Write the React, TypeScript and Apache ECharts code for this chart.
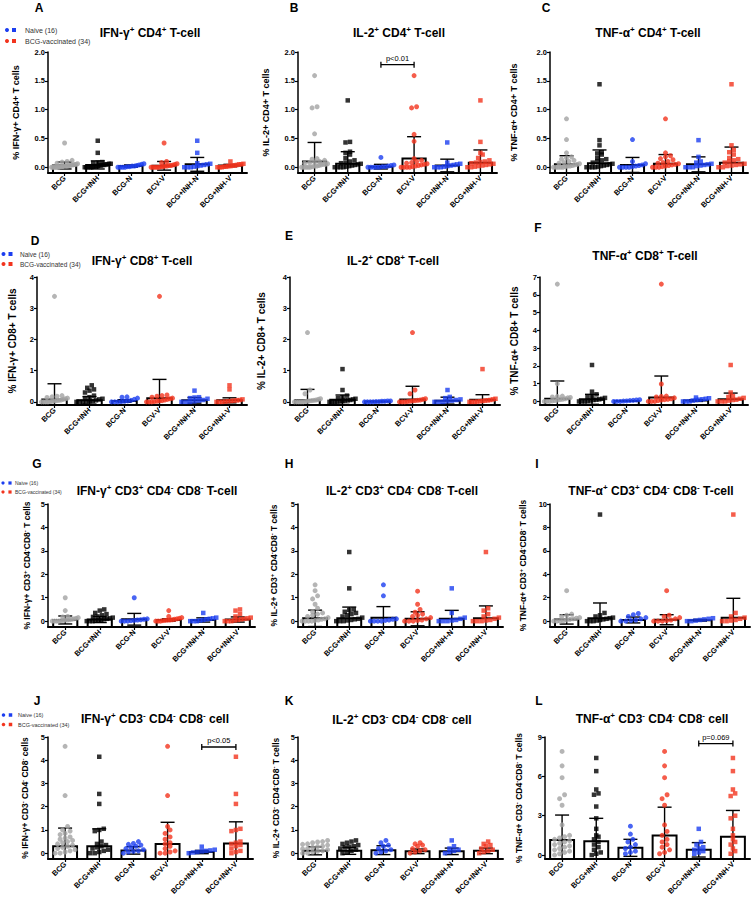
import React, { useEffect, useRef } from "react";
import * as echarts from "echarts";

const FONT = "'Liberation Sans', Arial, Helvetica, sans-serif";

const CATEGORIES = ["BCG", "BCG+INH", "BCG-N", "BCV-V", "BCG+INH-N", "BCG+INH-V"];
const CATEGORIES_L = ["BCG", "BCG+INH", "BCG-N", "BCG-V", "BCG+INH-N", "BCG+INH-V"];
const GROUP_COLORS = ["#a2a2a2", "#000000", "#1c3ef0", "#f2341e", "#1c3ef0", "#f2341e"];
const GROUP_SYMBOLS = ["circle", "rect", "circle", "circle", "rect", "rect"];
const LEGEND_LABELS = ["Naive (16)", "BCG-vaccinated (34)"];
const LEGEND_COLORS = ["#1c3ef0", "#f2341e"];

const TICKS_2 = [0, 0.5, 1, 1.5, 2];
const TICKS_4 = [0, 1, 2, 3, 4];
const TICKS_7 = [0, 1, 2, 3, 4, 5, 6, 7];
const TICKS_5 = [0, 1, 2, 3, 4, 5];
const TICKS_10 = [0, 2, 4, 6, 8, 10];
const TICKS_9 = [0, 3, 6, 9];

// ---- A: IFN-g+ CD4+ ----
const A_mean = [0.03, 0.04, 0.02, 0.025, 0.05, 0.03];
const A_sd = [0.06, 0.07, 0.02, 0.075, 0.12, 0.02];
const A_pts = [
  [0.42, 0.12, 0.1, 0.09, 0.07, 0.06, 0.05, 0.05, 0.04, 0.04, 0.03, 0.03, 0.02, 0.02, 0.02, 0.01, 0.01, 0.01, 0, 0, 0, 0, 0, 0],
  [0.46, 0.25, 0.09, 0.08, 0.07, 0.06, 0.06, 0.05, 0.05, 0.04, 0.04, 0.03, 0.03, 0.02, 0.02, 0.01, 0.01, 0, 0, 0, 0, 0],
  [0.06, 0.05, 0.04, 0.03, 0.02, 0.02, 0.01, 0.01, 0, 0, 0, 0],
  [0.42, 0.1, 0.08, 0.06, 0.05, 0.04, 0.03, 0.03, 0.02, 0.02, 0.01, 0.01, 0, 0, 0, 0, 0],
  [0.46, 0.25, 0.07, 0.06, 0.05, 0.04, 0.03, 0.02, 0.01, 0, 0, 0],
  [0.1, 0.06, 0.05, 0.05, 0.04, 0.03, 0.03, 0.02, 0.02, 0.01, 0.01, 0, 0, 0],
];

// ---- B: IL-2+ CD4+ ----
const B_mean = [0.1, 0.06, 0.01, 0.15, 0.03, 0.08];
const B_sd = [0.33, 0.21, 0.04, 0.38, 0.11, 0.22];
const B_pts = [
  [1.59, 1.05, 1.03, 0.58, 0.15, 0.14, 0.12, 0.1, 0.09, 0.08, 0.07, 0.06, 0.05, 0.05, 0.04, 0.03, 0.02, 0.02, 0.01, 0, 0, 0, 0, 0],
  [1.16, 0.44, 0.43, 0.27, 0.25, 0.22, 0.16, 0.12, 0.1, 0.08, 0.07, 0.06, 0.05, 0.04, 0.03, 0.02, 0.01, 0, 0, 0, 0],
  [0.17, 0.04, 0.03, 0.02, 0.01, 0.01, 0, 0, 0, 0, 0],
  [1.59, 1.05, 1.03, 0.57, 0.45, 0.15, 0.12, 0.1, 0.08, 0.07, 0.06, 0.05, 0.04, 0.03, 0.02, 0.01, 0, 0, 0, 0],
  [0.43, 0.08, 0.06, 0.05, 0.04, 0.03, 0.02, 0.01, 0, 0, 0],
  [1.16, 0.44, 0.25, 0.22, 0.16, 0.12, 0.1, 0.09, 0.08, 0.07, 0.06, 0.05, 0.04, 0.03, 0.02, 0.01, 0, 0],
];
const B_bracket = [2, 3, 1.78];
const B_label = "p<0.01";

// ---- C: TNF-a+ CD4+ ----
const C_mean = [0.05, 0.07, 0.04, 0.06, 0.05, 0.08];
const C_sd = [0.15, 0.23, 0.13, 0.16, 0.13, 0.27];
const C_pts = [
  [0.84, 0.48, 0.25, 0.18, 0.16, 0.14, 0.12, 0.1, 0.08, 0.07, 0.06, 0.05, 0.04, 0.03, 0.02, 0.02, 0.01, 0, 0, 0, 0, 0],
  [1.44, 0.47, 0.38, 0.26, 0.24, 0.22, 0.16, 0.14, 0.12, 0.1, 0.08, 0.06, 0.05, 0.04, 0.03, 0.02, 0.01, 0, 0, 0, 0],
  [0.48, 0.1, 0.06, 0.04, 0.03, 0.02, 0.01, 0, 0, 0, 0],
  [0.84, 0.25, 0.2, 0.18, 0.15, 0.13, 0.1, 0.08, 0.07, 0.06, 0.05, 0.04, 0.03, 0.02, 0.01, 0, 0, 0],
  [0.47, 0.18, 0.1, 0.08, 0.06, 0.05, 0.04, 0.03, 0.02, 0, 0, 0],
  [1.44, 0.38, 0.3, 0.26, 0.22, 0.16, 0.14, 0.12, 0.1, 0.08, 0.06, 0.05, 0.04, 0.03, 0.02, 0, 0],
];

// ---- D: IFN-g+ CD8+ ----
const D_mean = [0.08, 0.05, 0.03, 0.12, 0.05, 0.05];
const D_sd = [0.5, 0.12, 0.04, 0.6, 0.09, 0.08];
const D_pts = [
  [3.38, 0.2, 0.18, 0.16, 0.14, 0.12, 0.1, 0.08, 0.06, 0.05, 0.04, 0.03, 0.02, 0.01, 0, 0, 0, 0],
  [0.53, 0.45, 0.4, 0.36, 0.3, 0.2, 0.15, 0.12, 0.1, 0.08, 0.05, 0.03, 0.02, 0.01, 0, 0, 0],
  [0.16, 0.15, 0.12, 0.08, 0.05, 0.03, 0.02, 0.01, 0, 0, 0],
  [3.38, 0.22, 0.2, 0.18, 0.15, 0.12, 0.1, 0.08, 0.06, 0.04, 0.03, 0.02, 0.01, 0, 0, 0],
  [0.36, 0.15, 0.14, 0.12, 0.1, 0.06, 0.04, 0.02, 0, 0, 0],
  [0.53, 0.4, 0.08, 0.06, 0.05, 0.04, 0.03, 0.02, 0.01, 0, 0, 0],
];

// ---- E: IL-2+ CD8+ ----
const E_mean = [0.05, 0.07, 0.01, 0.08, 0.04, 0.07];
const E_sd = [0.35, 0.15, 0.01, 0.42, 0.11, 0.16];
const E_pts = [
  [2.22, 0.38, 0.26, 0.1, 0.08, 0.06, 0.05, 0.04, 0.03, 0.02, 0.01, 0, 0, 0, 0, 0],
  [1.05, 0.38, 0.2, 0.15, 0.12, 0.1, 0.08, 0.06, 0.05, 0.04, 0.03, 0.02, 0.01, 0, 0, 0],
  [0.03, 0.03, 0.02, 0.02, 0.01, 0.01, 0, 0, 0, 0],
  [2.22, 0.38, 0.26, 0.1, 0.08, 0.06, 0.05, 0.04, 0.03, 0.02, 0.01, 0, 0, 0],
  [0.38, 0.16, 0.12, 0.08, 0.06, 0.04, 0.02, 0, 0, 0],
  [1.05, 0.1, 0.08, 0.06, 0.05, 0.04, 0.03, 0.02, 0.01, 0, 0, 0],
];

// ---- F: TNF-a+ CD8+ ----
const F_mean = [0.15, 0.12, 0.03, 0.22, 0.05, 0.12];
const F_sd = [1.0, 0.28, 0.02, 1.21, 0.05, 0.35];
const F_pts = [
  [6.6, 1.0, 0.3, 0.28, 0.25, 0.22, 0.2, 0.15, 0.12, 0.1, 0.08, 0.05, 0.03, 0, 0, 0],
  [2.05, 0.55, 0.4, 0.3, 0.25, 0.2, 0.15, 0.12, 0.1, 0.08, 0.05, 0.03, 0, 0, 0],
  [0.1, 0.08, 0.06, 0.05, 0.03, 0.02, 0, 0, 0],
  [6.6, 0.98, 0.3, 0.28, 0.25, 0.2, 0.15, 0.12, 0.1, 0.08, 0.05, 0, 0, 0],
  [0.22, 0.18, 0.15, 0.12, 0.1, 0.08, 0.05, 0, 0, 0],
  [2.05, 0.5, 0.3, 0.25, 0.2, 0.15, 0.1, 0.08, 0.05, 0, 0, 0],
];

// ---- G: IFN-g+ CD3+ CD4- CD8- ----
const G_mean = [0.05, 0.07, 0.08, 0.05, 0.05, 0.07];
const G_sd = [0.17, 0.13, 0.25, 0.05, 0.09, 0.11];
const G_pts = [
  [1.0, 0.45, 0.2, 0.18, 0.15, 0.12, 0.1, 0.08, 0.06, 0.05, 0.04, 0.03, 0.02, 0, 0, 0, 0],
  [0.5, 0.45, 0.35, 0.3, 0.25, 0.2, 0.18, 0.15, 0.12, 0.1, 0.08, 0.06, 0.04, 0.02, 0, 0, 0],
  [1.0, 0.1, 0.08, 0.06, 0.05, 0.03, 0.02, 0, 0, 0],
  [0.45, 0.2, 0.15, 0.12, 0.1, 0.08, 0.06, 0.05, 0.04, 0.03, 0.02, 0, 0, 0],
  [0.35, 0.15, 0.12, 0.1, 0.08, 0.05, 0.03, 0, 0, 0],
  [0.5, 0.45, 0.3, 0.2, 0.15, 0.12, 0.1, 0.08, 0.05, 0.03, 0, 0, 0],
];

// ---- H: IL-2+ CD3+ CD4- CD8- ----
const H_mean = [0.12, 0.12, 0.15, 0.1, 0.1, 0.12];
const H_sd = [0.35, 0.48, 0.47, 0.3, 0.36, 0.53];
const H_pts = [
  [1.55, 1.3, 1.08, 0.95, 0.72, 0.55, 0.4, 0.35, 0.3, 0.25, 0.2, 0.15, 0.1, 0.08, 0.05, 0.03, 0, 0, 0, 0],
  [2.95, 1.4, 0.5, 0.48, 0.4, 0.35, 0.3, 0.25, 0.2, 0.15, 0.1, 0.08, 0.05, 0.03, 0, 0, 0],
  [1.55, 1.08, 0.1, 0.08, 0.05, 0.03, 0, 0, 0, 0],
  [1.28, 0.72, 0.5, 0.38, 0.3, 0.25, 0.2, 0.15, 0.1, 0.05, 0.03, 0, 0, 0],
  [1.4, 0.35, 0.15, 0.1, 0.05, 0.03, 0, 0, 0],
  [2.95, 0.55, 0.45, 0.3, 0.2, 0.15, 0.1, 0.05, 0.03, 0, 0, 0],
];

// ---- I: TNF-a+ CD3+ CD4- CD8- ----
const I_mean = [0.15, 0.25, 0.1, 0.12, 0.08, 0.3];
const I_sd = [0.4, 1.3, 0.25, 0.43, 0.07, 1.65];
const I_pts = [
  [2.6, 0.6, 0.5, 0.4, 0.3, 0.25, 0.2, 0.15, 0.1, 0.05, 0, 0, 0],
  [9.1, 0.7, 0.5, 0.4, 0.3, 0.25, 0.2, 0.15, 0.1, 0.05, 0, 0, 0],
  [0.65, 0.55, 0.4, 0.3, 0.2, 0.1, 0.05, 0, 0],
  [2.6, 0.5, 0.4, 0.3, 0.2, 0.1, 0.05, 0, 0, 0],
  [0.25, 0.2, 0.15, 0.1, 0.05, 0, 0],
  [9.1, 0.7, 0.4, 0.3, 0.2, 0.1, 0.05, 0, 0],
];

// ---- J: IFN-g+ CD3- CD4- CD8- ----
const J_mean = [0.3, 0.3, 0.12, 0.4, 0.05, 0.42];
const J_sd = [0.78, 0.75, 0.16, 0.93, 0.07, 0.93];
const J_pts = [
  [4.6, 2.48, 1.15, 1.0, 0.95, 0.85, 0.8, 0.7, 0.65, 0.6, 0.55, 0.5, 0.45, 0.4, 0.35, 0.3, 0.25, 0.2, 0.15, 0.1, 0.05, 0, 0],
  [4.15, 2.55, 2.12, 1.05, 1.0, 0.95, 0.5, 0.4, 0.35, 0.3, 0.25, 0.2, 0.15, 0.1, 0.05, 0, 0],
  [0.5, 0.42, 0.38, 0.35, 0.3, 0.25, 0.2, 0.15, 0.1, 0.08, 0.05, 0],
  [4.6, 2.48, 1.15, 1.0, 0.85, 0.7, 0.6, 0.45, 0.4, 0.3, 0.2, 0.1, 0.05, 0, 0],
  [0.28, 0.15, 0.12, 0.1, 0.08, 0.05, 0.03, 0],
  [4.15, 2.55, 2.12, 1.05, 1.0, 0.95, 0.5, 0.45, 0.4, 0.35, 0.3, 0.2, 0.1, 0.05, 0],
];
const J_bracket = [4, 5, 4.57];
const J_label = "p<0.05";

// ---- K: IL-2+ CD3- CD4- CD8- ----
const K_mean = [0.1, 0.1, 0.13, 0.08, 0.08, 0.1];
const K_sd = [0.17, 0.15, 0.19, 0.1, 0.14, 0.12];
const K_pts = [
  [0.55, 0.5, 0.48, 0.45, 0.4, 0.38, 0.35, 0.3, 0.28, 0.25, 0.2, 0.18, 0.15, 0.1, 0.08, 0.05, 0, 0],
  [0.55, 0.5, 0.45, 0.4, 0.35, 0.3, 0.28, 0.25, 0.2, 0.15, 0.1, 0.05, 0],
  [0.55, 0.45, 0.35, 0.3, 0.2, 0.15, 0.1, 0.05, 0],
  [0.45, 0.4, 0.35, 0.3, 0.2, 0.15, 0.1, 0.05, 0],
  [0.55, 0.3, 0.2, 0.15, 0.1, 0.05, 0],
  [0.5, 0.4, 0.35, 0.3, 0.2, 0.15, 0.1, 0.05, 0],
];

// ---- L: TNF-a+ CD3- CD4- CD8- ----
const L_mean = [1.15, 1.05, 0.55, 1.5, 0.4, 1.4];
const L_sd = [1.9, 1.75, 0.65, 2.15, 0.55, 2.0];
const L_pts = [
  [7.9, 6.8, 5.9, 4.6, 4.3, 3.8, 2.3, 1.5, 1.4, 1.3, 1.2, 1.1, 1.0, 0.9, 0.8, 0.7, 0.6, 0.5, 0.4, 0.3, 0.2, 0.1, 0],
  [7.4, 6.4, 5.0, 4.7, 4.6, 3.7, 2.8, 2.0, 1.5, 1.4, 1.2, 1.0, 0.8, 0.6, 0.4, 0.2, 0.1, 0],
  [2.2, 1.6, 1.2, 1.0, 0.8, 0.6, 0.5, 0.3, 0.2, 0.1],
  [7.9, 6.8, 5.9, 4.6, 4.3, 3.8, 2.3, 1.8, 1.5, 1.2, 1.0, 0.8, 0.6, 0.4, 0.2, 0.1],
  [2.0, 1.0, 0.8, 0.6, 0.5, 0.4, 0.3, 0.2, 0.1],
  [7.4, 6.4, 5.0, 4.7, 4.5, 3.0, 2.8, 2.0, 1.5, 1.2, 1.0, 0.8, 0.5, 0.3, 0.1],
];
const L_bracket = [4, 5, 8.5];
const L_label = "p=0.069";

type Panel = {
  id: string; mean: number[]; sd: number[]; pts: number[][]; cats: string[];
  yMin: number; yMax: number; ticks: number[]; dec: number;
  grid: number[]; letter: number[]; title: string; titleAt: number[];
  yName: string; nameSize: number; nameGap: number;
  bracket?: number[]; bracketLabel?: string;
};

const PANELS: Panel[] = [
  { id: "A", mean: A_mean, sd: A_sd, pts: A_pts, cats: CATEGORIES, yMin: -0.1, yMax: 2, ticks: TICKS_2, dec: 1,
    grid: [48, 52, 199, 121], letter: [39, 8], title: "IFN-γ^+ CD4^+ T-cell", titleAt: [150, 33],
    yName: "% IFN-γ+ CD4+ T cells", nameSize: 9, nameGap: 28 },
  { id: "B", mean: B_mean, sd: B_sd, pts: B_pts, cats: CATEGORIES, yMin: -0.1, yMax: 2, ticks: TICKS_2, dec: 1,
    grid: [298, 52, 199, 121], letter: [294, 8], title: "IL-2^+ CD4^+ T-cell", titleAt: [399, 33],
    yName: "% IL-2+ CD4+ T cells", nameSize: 9, nameGap: 28, bracket: B_bracket, bracketLabel: B_label },
  { id: "C", mean: C_mean, sd: C_sd, pts: C_pts, cats: CATEGORIES, yMin: -0.1, yMax: 2, ticks: TICKS_2, dec: 1,
    grid: [550, 52, 198, 121], letter: [546, 8], title: "TNF-α^+ CD4^+ T-cell", titleAt: [648, 33],
    yName: "% TNF-α+ CD4+ T cells", nameSize: 9, nameGap: 32 },
  { id: "D", mean: D_mean, sd: D_sd, pts: D_pts, cats: CATEGORIES, yMin: -0.1, yMax: 4, ticks: TICKS_4, dec: 0,
    grid: [37, 277, 210, 128], letter: [35, 241], title: "IFN-γ^+ CD8^+ T-cell", titleAt: [142, 261],
    yName: "% IFN-γ+ CD8+ T cells", nameSize: 10, nameGap: 20 },
  { id: "E", mean: E_mean, sd: E_sd, pts: E_pts, cats: CATEGORIES, yMin: -0.1, yMax: 4, ticks: TICKS_4, dec: 0,
    grid: [290, 277, 210, 128], letter: [289, 236], title: "IL-2^+ CD8^+ T-cell", titleAt: [393, 261],
    yName: "% IL-2+ CD8+ T cells", nameSize: 10, nameGap: 24 },
  { id: "F", mean: F_mean, sd: F_sd, pts: F_pts, cats: CATEGORIES, yMin: -0.2, yMax: 7, ticks: TICKS_7, dec: 0,
    grid: [540, 277, 208, 128], letter: [538, 228], title: "TNF-α^+ CD8^+ T-cell", titleAt: [645, 256],
    yName: "% TNF-α+ CD8+ T cells", nameSize: 10, nameGap: 21 },
  { id: "G", mean: G_mean, sd: G_sd, pts: G_pts, cats: CATEGORIES, yMin: -0.25, yMax: 5, ticks: TICKS_5, dec: 0,
    grid: [48, 504, 207, 123], letter: [37, 464], title: "IFN-γ^+ CD3^+ CD4^- CD8^- T-cell", titleAt: [157, 491],
    yName: "% IFN-γ+ CD3^+ CD4^-CD8^- T cells", nameSize: 8.5, nameGap: 17 },
  { id: "H", mean: H_mean, sd: H_sd, pts: H_pts, cats: CATEGORIES, yMin: -0.25, yMax: 5, ticks: TICKS_5, dec: 0,
    grid: [298, 504, 205, 123], letter: [289, 464], title: "IL-2^+ CD3^+ CD4^- CD8^- T-cell", titleAt: [402, 491],
    yName: "% IL-2+ CD3^+ CD4^-CD8^- T cells", nameSize: 8.5, nameGap: 20 },
  { id: "I", mean: I_mean, sd: I_sd, pts: I_pts, cats: CATEGORIES, yMin: -0.5, yMax: 10, ticks: TICKS_10, dec: 0,
    grid: [550, 504, 200, 123], letter: [537, 464], title: "TNF-α^+ CD3^+ CD4^- CD8^- T-cell", titleAt: [651, 491],
    yName: "% TNF-α+ CD3^+ CD4^-CD8^- T cells", nameSize: 8.5, nameGap: 23 },
  { id: "J", mean: J_mean, sd: J_sd, pts: J_pts, cats: CATEGORIES, yMin: -0.25, yMax: 5, ticks: TICKS_5, dec: 0,
    grid: [48, 737, 205, 122], letter: [37, 701], title: "IFN-γ^+ CD3^- CD4^- CD8^- cell", titleAt: [155, 719],
    yName: "% IFN-γ+ CD3^- CD4^- CD8^- cells", nameSize: 8.5, nameGap: 19, bracket: J_bracket, bracketLabel: J_label },
  { id: "K", mean: K_mean, sd: K_sd, pts: K_pts, cats: CATEGORIES, yMin: -0.25, yMax: 5, ticks: TICKS_5, dec: 0,
    grid: [298, 737, 205, 122], letter: [289, 701], title: "IL-2^+ CD3^- CD4^- CD8^- cell", titleAt: [402, 720],
    yName: "% IL-2+ CD3^- CD4^-CD8^- T cells", nameSize: 8.5, nameGap: 18 },
  { id: "L", mean: L_mean, sd: L_sd, pts: L_pts, cats: CATEGORIES_L, yMin: -0.3, yMax: 9, ticks: TICKS_9, dec: 0,
    grid: [545, 737, 205, 122], letter: [539, 701], title: "TNF-α^+ CD3^- CD4^- CD8^- cell", titleAt: [652, 719],
    yName: "% TNF-α+ CD3^- CD4^-CD8^- T cells", nameSize: 8.5, nameGap: 22, bracket: L_bracket, bracketLabel: L_label },
];

const LEGENDS = [
  { x: 7, y: 30, dy: 11, fs: 7, ms: 4, tx: 25 },
  { x: 3.5, y: 254, dy: 10, fs: 6.5, ms: 4, tx: 20 },
  { x: 3, y: 483, dy: 9, fs: 5, ms: 3.2, tx: 15 },
  { x: 3.5, y: 715, dy: 9.5, fs: 5.5, ms: 3.5, tx: 18 },
];

function richText(text: string): string {
  return text
    .split(/(\^[+-])/)
    .filter((p) => p.length > 0)
    .map((p) => (p.startsWith("^") ? `{s|${p.slice(1)}}` : `{n|${p}}`))
    .join("");
}

function swarm(vals: number[], ppu: number, sym: number, maxW: number): [number, number][] {
  const sorted = [...vals].sort((a, b) => a - b);
  const rows: number[][] = [];
  let start = -Infinity;
  for (const v of sorted) {
    if (rows.length && (v - start) * ppu < sym * 0.8) rows[rows.length - 1].push(v);
    else {
      rows.push([v]);
      start = v;
    }
  }
  const out: [number, number][] = [];
  for (const r of rows) {
    const n = r.length;
    const step = n > 1 ? Math.min(sym, maxW / (n - 1)) : 0;
    r.forEach((v, i) => out.push([v, (i - (n - 1) / 2) * step]));
  }
  return out;
}

export default function App() {
  const ref = useRef<HTMLDivElement>(null);
  useEffect(() => {
    const chart = echarts.init(ref.current!, null, { renderer: "svg" });

    const grids: any[] = [];
    const xAxes: any[] = [];
    const yAxes: any[] = [];
    const series: any[] = [];
    const graphics: any[] = [];

    PANELS.forEach((p, i) => {
      const [gl, gt, gw, gh] = p.grid;
      const yMin = p.yMin;
      grids.push({ left: gl, top: gt, width: gw, height: gh, containLabel: false, outerBoundsMode: "none" });
      xAxes.push({
        type: "category",
        gridIndex: i,
        data: p.cats,
        boundaryGap: true,
        axisLine: { show: true, onZero: false, lineStyle: { color: "#000", width: 2 } },
        axisTick: { show: true, alignWithLabel: true, length: 3, lineStyle: { color: "#000", width: 1.2 } },
        axisLabel: { rotate: 45, interval: 0, fontSize: 7.5, fontWeight: "bold", color: "#000", margin: 4, fontFamily: FONT },
        splitLine: { show: false },
      });
      yAxes.push({
        type: "value",
        gridIndex: i,
        min: p.yMin,
        max: p.yMax,
        axisLine: { show: true, lineStyle: { color: "#000", width: 1.5 } },
        axisTick: { show: true, length: 3, customValues: p.ticks, lineStyle: { color: "#000", width: 1.2 } },
        axisLabel: {
          customValues: p.ticks,
          formatter: (v: number) => v.toFixed(p.dec),
          fontSize: 7.5,
          fontWeight: "bold",
          color: "#000",
          margin: 3,
          fontFamily: FONT,
        },
        splitLine: { show: false },
        name: richText(p.yName),
        nameLocation: "middle",
        nameRotate: 90,
        nameGap: p.nameGap,
        nameTextStyle: {
          fontSize: p.nameSize,
          fontWeight: "bold",
          color: "#000",
          fontFamily: FONT,
          rich: {
            n: { fontSize: p.nameSize, fontWeight: "bold", color: "#000", fontFamily: FONT },
            s: { fontSize: p.nameSize - 2.5, fontWeight: "bold", color: "#000", fontFamily: FONT, verticalAlign: "top", lineHeight: p.nameSize - 1.5 },
          },
        },
      });

      // bars (white with black outline), from the axis bottom to the mean
      series.push({
        type: "custom",
        xAxisIndex: i,
        yAxisIndex: i,
        z: 2,
        clip: false,
        encode: { x: 0, y: 1 },
        data: p.mean.map((m, g) => [g, m]),
        renderItem: (_params: any, api: any) => {
          const x = api.value(0);
          const v = api.value(1);
          const top = api.coord([x, v]);
          const bot = api.coord([x, yMin]);
          const w = api.size([1, 0])[0] * 0.7;
          return {
            type: "rect",
            shape: { x: top[0] - w / 2, y: top[1], width: w, height: bot[1] - top[1] },
            style: { fill: "#fff", stroke: "#000", lineWidth: 2 },
          };
        },
      });

      // error bars (mean ± SD)
      series.push({
        type: "custom",
        xAxisIndex: i,
        yAxisIndex: i,
        z: 3,
        clip: false,
        encode: { x: 0, y: 1 },
        data: p.mean.map((m, g) => [g, m, p.sd[g]]),
        renderItem: (_params: any, api: any) => {
          const x = api.value(0);
          const m = api.value(1);
          const s = api.value(2);
          const lo = Math.max(m - s, yMin);
          const pHi = api.coord([x, m + s]);
          const pLo = api.coord([x, lo]);
          const cw = 7;
          const st = { stroke: "#000", lineWidth: 1.4 };
          const children: any[] = [
            { type: "line", shape: { x1: pHi[0], y1: pHi[1], x2: pLo[0], y2: pLo[1] }, style: st },
            { type: "line", shape: { x1: pHi[0] - cw, y1: pHi[1], x2: pHi[0] + cw, y2: pHi[1] }, style: st },
          ];
          if (m - s >= yMin) {
            children.push({ type: "line", shape: { x1: pLo[0] - cw, y1: pLo[1], x2: pLo[0] + cw, y2: pLo[1] }, style: st });
          }
          return { type: "group", children };
        },
      });

      // individual points, spread horizontally where they overlap
      const ppu = gh / (p.yMax - p.yMin);
      const items: any[] = [];
      p.pts.forEach((vals, g) => {
        const isRect = GROUP_SYMBOLS[g] === "rect";
        const sym = isRect ? 4.5 : 5;
        swarm(vals, ppu, sym, 26).forEach(([v, dx]) => {
          items.push({
            value: [g, v],
            symbol: GROUP_SYMBOLS[g],
            symbolSize: sym,
            symbolOffset: [dx, 0],
            itemStyle: { color: GROUP_COLORS[g] },
          });
        });
      });
      series.push({
        type: "scatter",
        xAxisIndex: i,
        yAxisIndex: i,
        z: 4,
        data: items,
        clip: false,
      });

      // significance bracket
      if (p.bracket) {
        const label = p.bracketLabel;
        series.push({
          type: "custom",
          xAxisIndex: i,
          yAxisIndex: i,
          z: 5,
          clip: false,
          encode: { x: 0, y: 2 },
          data: [p.bracket],
          renderItem: (_params: any, api: any) => {
            const a = api.coord([api.value(0), api.value(2)]);
            const b = api.coord([api.value(1), api.value(2)]);
            const st = { stroke: "#000", lineWidth: 1.3 };
            return {
              type: "group",
              children: [
                { type: "line", shape: { x1: a[0], y1: a[1], x2: b[0], y2: b[1] }, style: st },
                { type: "line", shape: { x1: a[0], y1: a[1] - 3, x2: a[0], y2: a[1] + 3 }, style: st },
                { type: "line", shape: { x1: b[0], y1: b[1] - 3, x2: b[0], y2: b[1] + 3 }, style: st },
                {
                  type: "text",
                  style: {
                    text: label,
                    x: (a[0] + b[0]) / 2,
                    y: a[1] - 2,
                    textAlign: "center",
                    textVerticalAlign: "bottom",
                    fontSize: 7.5,
                    fontFamily: FONT,
                    fill: "#000",
                  },
                },
              ],
            };
          },
        });
      }

      // panel letter
      graphics.push({
        type: "text",
        x: p.letter[0],
        y: p.letter[1],
        style: {
          text: p.id,
          fontSize: 12,
          fontWeight: "bold",
          fontFamily: FONT,
          fill: "#000",
          textAlign: "center",
          textVerticalAlign: "middle",
        },
      });
      // panel title
      graphics.push({
        type: "text",
        x: p.titleAt[0],
        y: p.titleAt[1],
        style: {
          text: richText(p.title),
          textAlign: "center",
          textVerticalAlign: "middle",
          fontFamily: FONT,
          rich: {
            n: { fontSize: 12, fontWeight: "bold", fontFamily: FONT, fill: "#000", lineHeight: 15 },
            s: { fontSize: 8, fontWeight: "bold", fontFamily: FONT, fill: "#000", lineHeight: 9, verticalAlign: "top" },
          },
        },
      });
    });

    // legends (left column panels)
    LEGENDS.forEach((L) => {
      LEGEND_LABELS.forEach((lab, k) => {
        const y = L.y + k * L.dy;
        const c = LEGEND_COLORS[k];
        graphics.push({ type: "circle", shape: { cx: L.x, cy: y, r: L.ms / 2 }, style: { fill: c } });
        graphics.push({
          type: "rect",
          shape: { x: L.x + 7 - L.ms / 2, y: y - L.ms / 2, width: L.ms, height: L.ms },
          style: { fill: c },
        });
        graphics.push({
          type: "text",
          x: L.tx,
          y,
          style: {
            text: lab,
            fontSize: L.fs,
            fontFamily: FONT,
            fill: "#333",
            textAlign: "left",
            textVerticalAlign: "middle",
          },
        });
      });
    });

    chart.setOption({
      animation: false,
      backgroundColor: "#ffffff",
      textStyle: { fontFamily: FONT },
      grid: grids,
      xAxis: xAxes,
      yAxis: yAxes,
      series,
      graphic: graphics,
    });

    return () => chart.dispose();
  }, []);

  return (
    <div
      ref={ref}
      style={{ position: "absolute", left: 0, top: 0, width: 754, height: 900, background: "#fff" }}
    />
  );
}
